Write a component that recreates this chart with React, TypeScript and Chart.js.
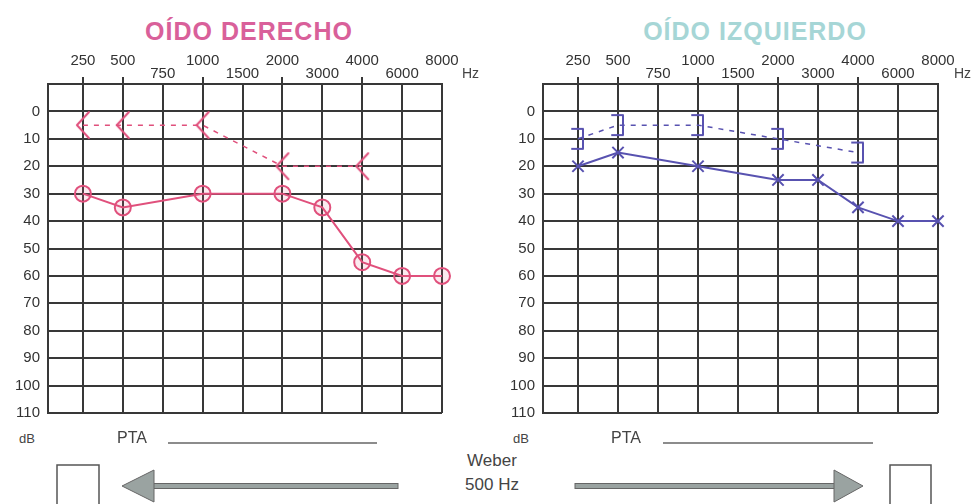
import React, { useEffect, useRef } from 'react';
import { Chart, registerables } from 'chart.js';

Chart.register(...registerables);

// ---- data ----
const FREQUENCIES = ['250', '500', '750', '1000', '1500', '2000', '3000', '4000', '6000', '8000'];
const UPPER_ROW_LABELS = ['250', '500', '1000', '2000', '4000', '8000'];
const TICKED_FREQS = ['250', '500', '1000', '2000', '4000'];
const DB_TICKS = [-10, 0, 10, 20, 30, 40, 50, 60, 70, 80, 90, 100, 110];

const AIR_FREQS = ['250', '500', '1000', '2000', '3000', '4000', '6000', '8000'];
const BONE_FREQS = ['250', '500', '1000', '2000', '4000'];

const RIGHT_AIR = [30, 35, 30, 30, 35, 55, 60, 60];
const RIGHT_BONE = [5, 5, 5, 20, 20];
const LEFT_AIR = [20, 15, 20, 25, 25, 35, 40, 40];
const LEFT_BONE = [10, 5, 5, 10, 15];

const PINK = '#e0507c';
const BLUE = '#5852b0';
const GRID = '#383838';
const FONT = '"Liberation Sans", Arial, Helvetica, sans-serif';

function toPoints(freqs: string[], vals: number[]) {
  return freqs.map((f, i) => ({ x: FREQUENCIES.indexOf(f), y: vals[i] }));
}

function makeMarker(kind: 'lt' | 'bracket', color: string) {
  const c = document.createElement('canvas');
  c.width = 22;
  c.height = 32;
  const g = c.getContext('2d')!;
  g.strokeStyle = color;
  g.lineWidth = 2;
  g.lineCap = 'round';
  g.lineJoin = 'round';
  g.beginPath();
  if (kind === 'lt') {
    g.moveTo(17, 3);
    g.lineTo(5, 16);
    g.lineTo(17, 29);
  } else {
    g.moveTo(5, 6);
    g.lineTo(16, 6);
    g.lineTo(16, 26);
    g.lineTo(5, 26);
  }
  g.stroke();
  return c;
}

type Props = {
  air: number[];
  bone: number[];
  color: string;
  airStyle: string;
  airFill: string;
  boneKind: 'lt' | 'bracket';
  yAxisWidth: number;
  padRight: number;
  left: number;
};

function Audiogram(p: Props) {
  const ref = useRef<HTMLCanvasElement | null>(null);
  useEffect(() => {
    if (!ref.current) return;
    const marker = makeMarker(p.boneKind, p.color);
    const chart = new Chart(ref.current, {
      type: 'line',
      data: {
        datasets: [
          {
            label: 'aérea',
            data: toPoints(AIR_FREQS, p.air),
            borderColor: p.color,
            borderWidth: 2,
            pointStyle: p.airStyle as any,
            pointRadius: 8,
            pointBorderWidth: 2,
            pointBorderColor: p.color,
            pointBackgroundColor: p.airFill,
            tension: 0,
            fill: false,
            clip: false as any,
          },
          {
            label: 'ósea',
            data: toPoints(BONE_FREQS, p.bone),
            borderColor: p.color,
            borderWidth: 1.5,
            borderDash: [5, 6],
            pointStyle: marker as any,
            pointRadius: 10,
            tension: 0,
            fill: false,
            clip: false as any,
          },
        ],
      },
      options: {
        responsive: false,
        animation: false,
        layout: { padding: { left: 0, top: 0, right: p.padRight, bottom: 17 } },
        plugins: { legend: { display: false }, tooltip: { enabled: false } },
        scales: {
          x: {
            type: 'linear',
            position: 'top',
            min: -0.875,
            max: 9,
            afterBuildTicks: (s: any) => {
              s.ticks = FREQUENCIES.map((_, i) => ({ value: i }));
            },
            afterFit: (s: any) => {
              s.height = 44;
            },
            ticks: {
              autoSkip: false,
              maxRotation: 0,
              minRotation: 0,
              padding: -3,
              color: '#333',
              font: { family: FONT, size: 15, lineHeight: '13px' as any },
              callback: (v: any) => {
                const f = FREQUENCIES[v as number];
                return UPPER_ROW_LABELS.includes(f) ? [f, ''] : ['', f];
              },
            },
            grid: {
              color: GRID,
              lineWidth: 2,
              drawTicks: true,
              tickLength: 7,
              tickColor: (ctx: any) =>
                TICKED_FREQS.includes(FREQUENCIES[ctx.tick?.value]) ? GRID : 'rgba(0,0,0,0)',
            },
            border: { display: true, color: GRID, width: 2 },
          },
          y: {
            type: 'linear',
            reverse: true,
            min: -10,
            max: 110,
            afterBuildTicks: (s: any) => {
              s.ticks = DB_TICKS.map((v) => ({ value: v }));
            },
            afterFit: (s: any) => {
              s.width = p.yAxisWidth;
            },
            ticks: {
              padding: 8,
              color: '#333',
              font: { family: FONT, size: 15 },
              callback: (v: any) => (v === -10 ? '' : String(v)),
            },
            grid: { color: GRID, lineWidth: 2, drawTicks: false },
            border: { display: true, color: GRID, width: 2 },
          },
        },
      },
    });
    return () => chart.destroy();
  }, []);
  return (
    <canvas
      ref={ref}
      width={488}
      height={390}
      style={{ position: 'absolute', left: p.left, top: 40, width: 488, height: 390 }}
    />
  );
}

const txt = (extra: React.CSSProperties): React.CSSProperties => ({
  position: 'absolute',
  fontFamily: FONT,
  whiteSpace: 'nowrap',
  lineHeight: 1,
  ...extra,
});

export default function App() {
  return (
    <div
      style={{
        position: 'fixed',
        left: 0,
        top: 0,
        width: 976,
        height: 504,
        background: '#fff',
        overflow: 'hidden',
      }}
    >
      <div
        style={txt({
          left: 249,
          top: 31,
          transform: 'translate(-50%,-50%)',
          fontSize: 25,
          fontWeight: 'bold',
          color: '#d9609a',
          letterSpacing: 1,
        })}
      >
        OÍDO DERECHO
      </div>
      <div
        style={txt({
          left: 755,
          top: 31,
          transform: 'translate(-50%,-50%)',
          fontSize: 25,
          fontWeight: 'bold',
          color: '#a6d6d6',
          letterSpacing: 1,
        })}
      >
        OÍDO IZQUIERDO
      </div>

      <Audiogram
        air={RIGHT_AIR}
        bone={RIGHT_BONE}
        color={PINK}
        airStyle="circle"
        airFill="rgba(224,80,124,0.12)"
        boneKind="lt"
        yAxisWidth={48}
        padRight={46}
        left={0}
      />
      <Audiogram
        air={LEFT_AIR}
        bone={LEFT_BONE}
        color={BLUE}
        airStyle="crossRot"
        airFill="rgba(0,0,0,0)"
        boneKind="bracket"
        yAxisWidth={55}
        padRight={38}
        left={488}
      />

      <div style={txt({ left: 462, top: 73, transform: 'translateY(-50%)', fontSize: 14, color: '#444' })}>Hz</div>
      <div style={txt({ left: 954, top: 73, transform: 'translateY(-50%)', fontSize: 14, color: '#444' })}>Hz</div>

      <div style={txt({ left: 19, top: 438, transform: 'translateY(-50%)', fontSize: 13, color: '#444' })}>dB</div>
      <div style={txt({ left: 513, top: 438, transform: 'translateY(-50%)', fontSize: 13, color: '#444' })}>dB</div>
      <div style={txt({ left: 117, top: 438, transform: 'translateY(-50%)', fontSize: 16, color: '#444' })}>PTA</div>
      <div style={txt({ left: 611, top: 438, transform: 'translateY(-50%)', fontSize: 16, color: '#444' })}>PTA</div>

      <div style={txt({ left: 492, top: 460, transform: 'translate(-50%,-50%)', fontSize: 17, color: '#444' })}>Weber</div>
      <div style={txt({ left: 492, top: 484, transform: 'translate(-50%,-50%)', fontSize: 17, color: '#444' })}>500 Hz</div>

      <svg width={976} height={504} style={{ position: 'absolute', left: 0, top: 0, pointerEvents: 'none' }}>
        <line x1={168} y1={443} x2={377} y2={443} stroke="#666" strokeWidth={1.5} />
        <line x1={663} y1={443} x2={873} y2={443} stroke="#666" strokeWidth={1.5} />
        <rect x={57} y={465} width={42} height={40} fill="#fff" stroke="#555" strokeWidth={1.5} />
        <rect x={890} y={465} width={41} height={40} fill="#fff" stroke="#555" strokeWidth={1.5} />
        <rect x={150} y={483.5} width={248} height={5} fill="#9aa3a1" stroke="#666" strokeWidth={1} />
        <polygon points="122,486 154,470 154,502" fill="#9aa3a1" stroke="#666" strokeWidth={1} />
        <rect x={575} y={483.5} width={262} height={5} fill="#9aa3a1" stroke="#666" strokeWidth={1} />
        <polygon points="863,486 834,470 834,502" fill="#9aa3a1" stroke="#666" strokeWidth={1} />
      </svg>
    </div>
  );
}
